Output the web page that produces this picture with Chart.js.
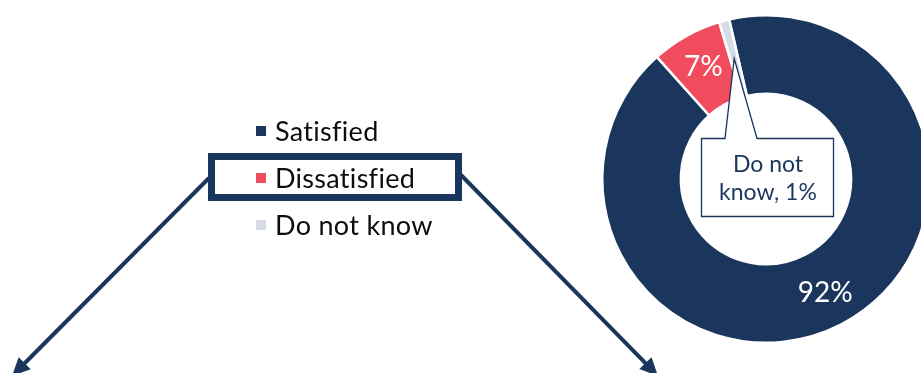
<!DOCTYPE html>
<html>
<head>
<meta charset="utf-8">
<script src="https://cdn.jsdelivr.net/npm/chart.js@4.4.1/dist/chart.umd.min.js"></script>
<style>
  html, body { margin: 0; padding: 0; background: #fff; overflow: hidden; width: 921px; height: 373px; }
  canvas { display: block; }
</style>
</head>
<body>
<canvas id="c" width="940" height="373"></canvas>
<script>
// Survey answers and their shares (%)
const categories = ['Satisfied', 'Dissatisfied', 'Do not know'];
const shares = [92, 7, 1];
const sliceColors = ['#1B365D', '#F04C5E', '#D5DCE6'];
// The answer that is boxed in the legend
const highlighted = 'Dissatisfied';
// The answer whose value sits in a callout rather than on its slice
const calloutCategory = 'Do not know';

const NAVY = '#1B365D';
const FONT = 'Lato, "Open Sans", sans-serif';

function drawArrow(ctx, x0, y0, x1, y1, width, headLen, headWidth) {
  const ang = Math.atan2(y1 - y0, x1 - x0);
  const bx = x1 - Math.cos(ang) * headLen * 0.9;
  const by = y1 - Math.sin(ang) * headLen * 0.9;
  ctx.save();
  ctx.strokeStyle = NAVY;
  ctx.fillStyle = NAVY;
  ctx.lineWidth = width;
  ctx.beginPath();
  ctx.moveTo(x0, y0);
  ctx.lineTo(bx, by);
  ctx.stroke();
  const hx = x1 - Math.cos(ang) * headLen;
  const hy = y1 - Math.sin(ang) * headLen;
  const px = -Math.sin(ang) * headWidth / 2;
  const py = Math.cos(ang) * headWidth / 2;
  ctx.beginPath();
  ctx.moveTo(x1, y1);
  ctx.lineTo(hx + px, hy + py);
  ctx.lineTo(hx - px, hy - py);
  ctx.closePath();
  ctx.fill();
  ctx.restore();
}

// Legend with boxed entry and two pointer arrows
const legendPlugin = {
  id: 'sideLegend',
  afterDraw(chart) {
    const ctx = chart.ctx;
    const x0 = 256, y0 = 131, step = 47;
    ctx.save();
    ctx.font = '27px ' + FONT;
    if ('letterSpacing' in ctx) ctx.letterSpacing = '0.3px';
    ctx.textBaseline = 'middle';
    ctx.textAlign = 'left';
    categories.forEach((name, i) => {
      const y = y0 + i * step;
      ctx.fillStyle = sliceColors[i];
      ctx.fillRect(x0, y - 5, 10, 10);
      ctx.fillStyle = '#0d0d0d';
      ctx.fillText(name, x0 + 19, y + 1);
    });
    if ('letterSpacing' in ctx) ctx.letterSpacing = '0px';
    const hi = categories.indexOf(highlighted);
    const hy = y0 + hi * step;
    // arrows out of the box
    drawArrow(ctx, 209, hy, 12, 376, 4, 18, 17);
    drawArrow(ctx, 461, hy - 3, 658, 376, 4, 18, 17);
    ctx.strokeStyle = NAVY;
    ctx.lineWidth = 7;
    ctx.strokeRect(211.5, hy - 21.5, 247, 41);
    ctx.restore();
  }
};

// Percentages on the slices plus a callout for the thin slice
const sliceLabels = {
  id: 'sliceLabels',
  afterDatasetsDraw(chart) {
    const ctx = chart.ctx;
    const meta = chart.getDatasetMeta(0);
    ctx.save();
    meta.data.forEach((arc, i) => {
      const p = arc.getProps(['x', 'y', 'startAngle', 'endAngle', 'innerRadius', 'outerRadius']);
      const mid = (p.startAngle + p.endAngle) / 2;
      const r = (p.innerRadius + p.outerRadius) / 2;
      if (categories[i] === calloutCategory) {
        const tx = p.x + Math.cos(mid) * r;
        const ty = p.y + Math.sin(mid) * r;
        const L = p.x - 64.5, R = p.x + 67.5, T = p.y - 40.5, B = p.y + 37.5;
        ctx.beginPath();
        ctx.moveTo(L, T);
        ctx.lineTo(p.x - 41, T);
        ctx.lineTo(tx, ty);
        ctx.lineTo(p.x - 9, T);
        ctx.lineTo(R, T);
        ctx.lineTo(R, B);
        ctx.lineTo(L, B);
        ctx.closePath();
        ctx.fillStyle = '#ffffff';
        ctx.fill();
        ctx.strokeStyle = NAVY;
        ctx.lineWidth = 1.3;
        ctx.stroke();
        const words = categories[i].split(' ');
        const lines = [words.slice(0, 2).join(' '), words.slice(2).join(' ') + ', ' + shares[i] + '%'];
        ctx.fillStyle = NAVY;
        ctx.font = '23px ' + FONT;
        ctx.textAlign = 'center';
        ctx.textBaseline = 'middle';
        ctx.fillText(lines[0], p.x + 2, p.y - 14);
        ctx.fillText(lines[1], p.x + 2, p.y + 14);
      } else {
        const rr = r + 4;
        ctx.fillStyle = '#ffffff';
        ctx.font = '28px ' + FONT;
        ctx.textAlign = 'center';
        ctx.textBaseline = 'middle';
        ctx.fillText(shares[i] + '%', p.x + Math.cos(mid) * rr, p.y + Math.sin(mid) * rr);
      }
    });
    ctx.restore();
  }
};

new Chart(document.getElementById('c'), {
  type: 'doughnut',
  data: {
    labels: categories,
    datasets: [{
      data: shares,
      backgroundColor: sliceColors,
      borderColor: '#ffffff',
      borderWidth: 2.5,
      hoverOffset: 0
    }]
  },
  options: {
    responsive: false,
    animation: false,
    rotation: -13,
    cutout: '52%',
    layout: { padding: { left: 601, right: 9, top: 14, bottom: 29 } },
    plugins: {
      legend: { display: false },
      tooltip: { enabled: false }
    },
    events: []
  },
  plugins: [sliceLabels, legendPlugin]
});
</script>
</body>
</html>
